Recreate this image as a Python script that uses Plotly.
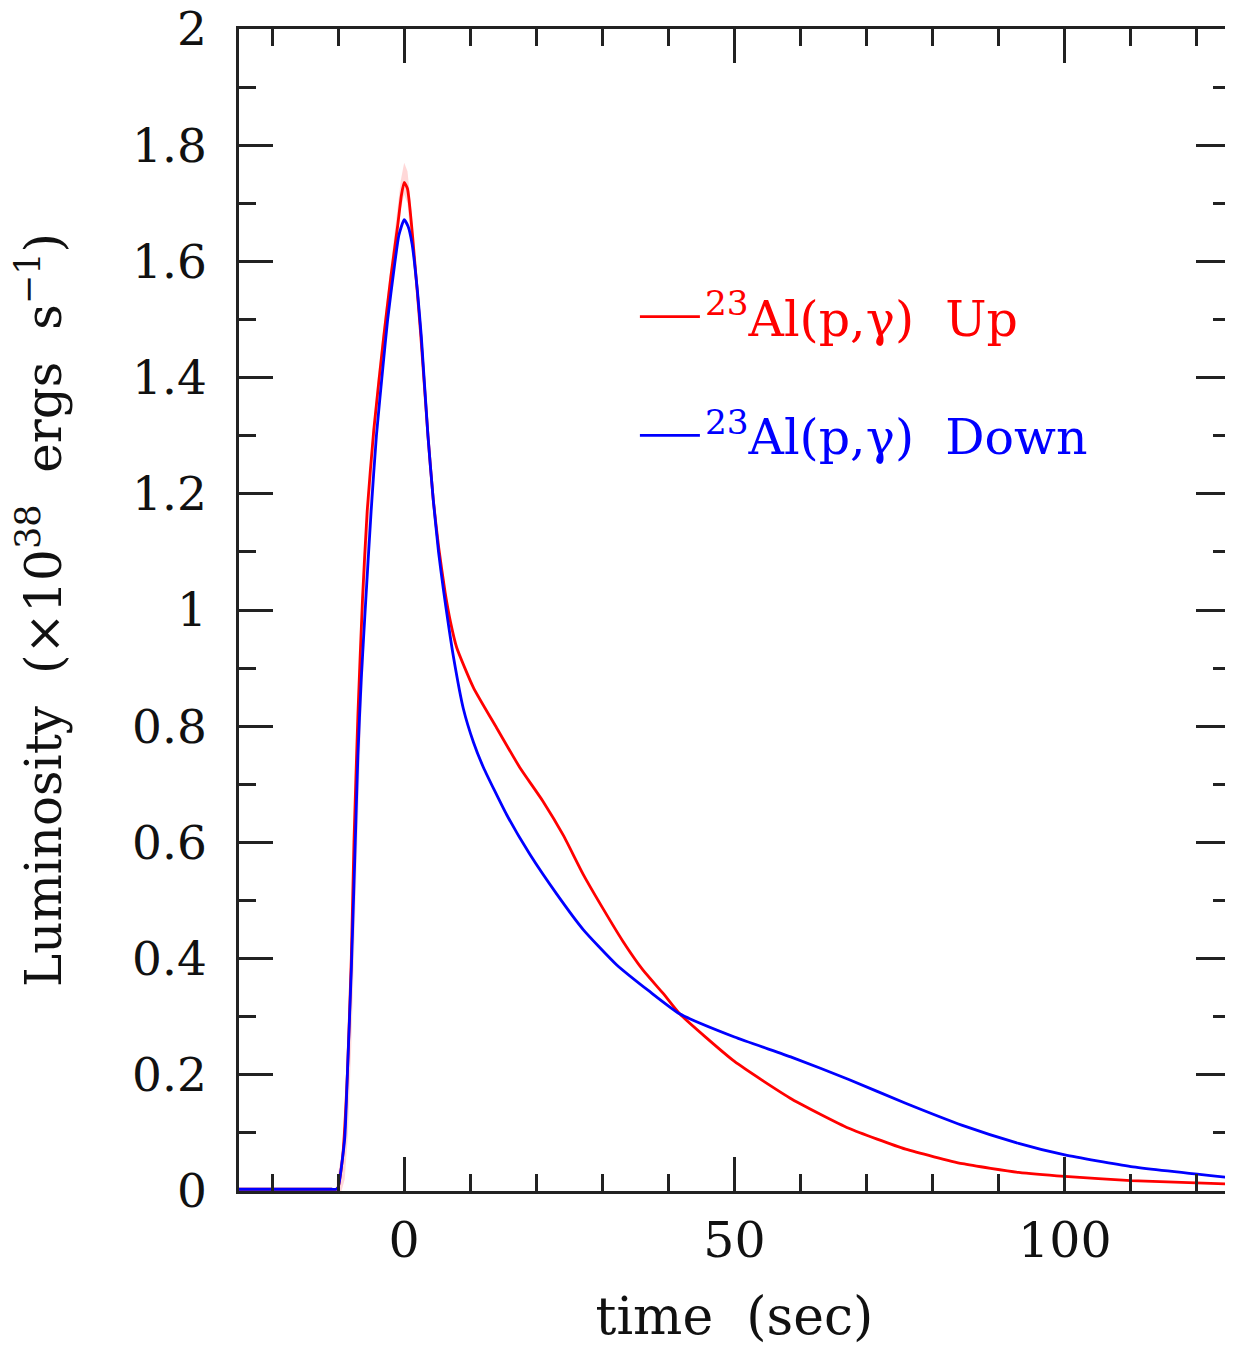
import plotly.graph_objects as go

# ---- data ----
t_up = [-25, -20, -15, -11, -10.3, -10, -9.3, -8.6, -8.0, -7.6, -7.0, -6.3, -5.6, -4.6, -3.1, -2.0, -1.0, -0.4, 0.0,
        0.5, 1.3, 2.5, 3.6, 4.4, 5.2, 6.2, 7.0, 7.96, 10.5, 14.0, 17.5, 21.0, 24.1, 27.1,
        30.1, 33.1, 36.1, 39.2, 41.7, 50.0, 58.7, 67.3, 75.9, 84.5, 93.0, 100.0, 110.0, 125.0]
L_up = [0.003, 0.003, 0.003, 0.003, 0.003, 0.006, 0.06, 0.20, 0.40, 0.60, 0.82, 1.02, 1.17, 1.31, 1.47, 1.575, 1.66, 1.715, 1.736,
        1.725, 1.64, 1.475, 1.30, 1.19, 1.11, 1.03, 0.98, 0.935, 0.866, 0.797, 0.729, 0.671, 0.612, 0.545,
        0.486, 0.430, 0.381, 0.340, 0.305, 0.223, 0.158, 0.108, 0.072, 0.047, 0.032, 0.025, 0.018, 0.012]

t_down = [-25, -20, -15, -11, -10.3, -10, -9.0, -8.6, -8.0, -7.4, -7.0, -6.5, -5.9, -5.0, -4.2, -3.2, -2.5, -1.5, -0.8, 0.0,
          0.6, 1.2, 2.0, 2.6, 3.6, 4.4, 5.2, 5.94, 6.7, 7.45, 8.96, 10.5, 12.0, 15.5, 19.0, 23.1,
          27.1, 32.1, 37.2, 41.7, 50.0, 58.7, 67.3, 75.9, 84.5, 93.0, 100.0, 110.0, 125.0]
L_down = [0.003, 0.003, 0.003, 0.003, 0.003, 0.006, 0.09, 0.20, 0.38, 0.60, 0.75, 0.88, 1.00, 1.17, 1.30, 1.42, 1.50, 1.59, 1.645, 1.672,
          1.66, 1.63, 1.55, 1.47, 1.30, 1.19, 1.10, 1.035, 0.975, 0.92, 0.83, 0.772, 0.729, 0.648, 0.580, 0.511,
          0.450, 0.390, 0.343, 0.305, 0.265, 0.230, 0.192, 0.151, 0.113, 0.082, 0.062, 0.042, 0.023]

# faint uncertainty band around the "Up" curve near the peak
t_band = [-10.2, -9.5, -9.0, -8.5, -8.0, -7.5, -7.0, -6.5, -6.0, -5.0, -4.0, -3.0, -2.0, -1.0, -0.5,
          0.0, 0.5, 1.0, 1.5, 2.0]
band_hi = [0.02, 0.06, 0.13, 0.27, 0.45, 0.67, 0.86, 0.99, 1.10, 1.28, 1.40, 1.50, 1.60, 1.69, 1.74,
           1.77, 1.755, 1.70, 1.63, 1.55]
band_lo = [0.0, 0.0, 0.02, 0.10, 0.25, 0.45, 0.66, 0.82, 0.95, 1.18, 1.33, 1.44, 1.55, 1.64, 1.69,
           1.715, 1.70, 1.64, 1.58, 1.52]

x_ticks = [0, 50, 100]
y_ticks = [0, 0.2, 0.4, 0.6, 0.8, 1.0, 1.2, 1.4, 1.6, 1.8, 2.0]
y_ticktext = ["0", "0.2", "0.4", "0.6", "0.8", "1", "1.2", "1.4", "1.6", "1.8", "2"]

FONT = "DejaVu Serif"

fig = go.Figure()

fig.add_trace(go.Scatter(x=t_band, y=band_hi, mode="lines", line=dict(width=0),
                         showlegend=False, hoverinfo="skip"))
fig.add_trace(go.Scatter(x=t_band, y=band_lo, mode="lines", line=dict(width=0),
                         fill="tonexty", fillcolor="rgba(255,60,60,0.2)",
                         showlegend=False, hoverinfo="skip"))

fig.add_trace(go.Scatter(
    x=t_up, y=L_up, mode="lines", line=dict(color="#ff0000", width=2.8, shape="spline", smoothing=0.5),
    name='<span style="color:#ff0000"><sup>23</sup>Al(p,γ)  Up</span>', legendgroup="a"))
fig.add_trace(go.Scatter(
    x=t_down, y=L_down, mode="lines", line=dict(color="#0000ff", width=2.8, shape="spline", smoothing=0.5),
    name='<span style="color:#0000ff"><sup>23</sup>Al(p,γ)  Down</span>', legendgroup="b"))

axis_common = dict(
    showline=True, linecolor="#222", linewidth=2.5, mirror="allticks",
    ticks="inside", ticklen=34, tickwidth=2.5, tickcolor="#222",
    showgrid=False, zeroline=False, automargin=False, ticklabeloverflow="allow",
)

fig.update_xaxes(
    range=[-25, 125], tickmode="array", tickvals=x_ticks,
    tickfont=dict(family=FONT, size=49, color="#111"), ticklabelstandoff=4,
    minor=dict(tickmode="linear", tick0=0, dtick=10, ticks="inside", ticklen=17,
               tickwidth=2.5, tickcolor="#222", showgrid=False),
    title=dict(text="time  (sec)", font=dict(family=FONT, size=52, color="#111"), standoff=31),
    **axis_common)
fig.update_yaxes(
    range=[0, 2], tickmode="array", tickvals=y_ticks, ticktext=y_ticktext,
    tickfont=dict(family=FONT, size=47, color="#111"), ticklabelstandoff=20,
    minor=dict(tickmode="linear", tick0=0, dtick=0.1, ticks="inside", ticklen=17,
               tickwidth=2.5, tickcolor="#222", showgrid=False),
    title=dict(text="Luminosity  (×10<sup>38</sup>  ergs  s<sup>−1</sup>)",
               font=dict(family=FONT, size=50, color="#111"), standoff=66),
    **axis_common)

fig.update_layout(
    width=1233, height=1351,
    margin=dict(l=231, r=11, t=21, b=168),
    paper_bgcolor="white", plot_bgcolor="white",
    showlegend=True,
    legend=dict(x=0.3995, y=0.7855, xanchor="left", yanchor="top",
                bgcolor="rgba(0,0,0,0)", font=dict(family=FONT, size=49),
                tracegroupgap=52, itemwidth=60),
)

fig.write_html("out.html")
